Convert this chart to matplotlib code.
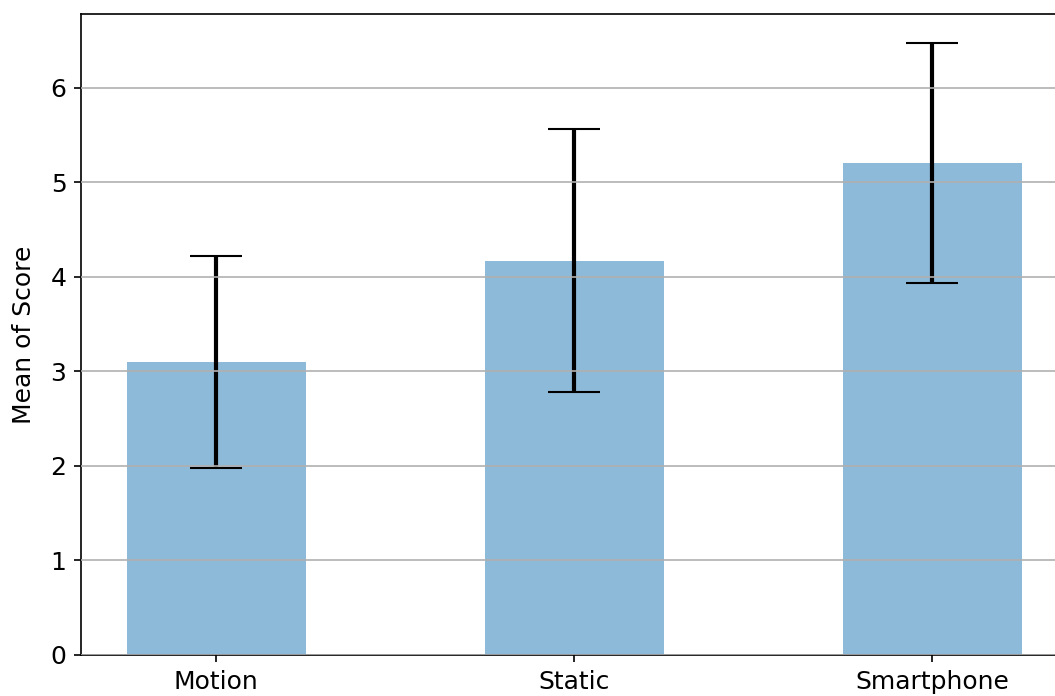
import numpy as np
import matplotlib
matplotlib.use('Agg')
import matplotlib.pyplot as plt

conditions = ['Motion', 'Static', 'Smartphone']
mean_score = [3.10, 4.17, 5.20]
err_score = [1.12, 1.39, 1.27]

DPI = 150
W, H = 1055, 696
fig = plt.figure(figsize=(W/DPI, H/DPI), dpi=DPI)
# axes extends past the right edge of the canvas
ax = fig.add_axes([81/W, (H-655)/H, 986.6/W, 641/H])

x = np.arange(len(conditions))
ax.bar(x, mean_score, width=0.5, color='tab:blue', alpha=0.5)
ax.errorbar(x, mean_score, yerr=err_score, fmt='none', ecolor='black',
            elinewidth=2, capsize=12.5, capthick=1.0)
ax.set_xticks(x)
ax.set_xticklabels(conditions, fontsize=12)
ax.tick_params(axis='y', labelsize=12)
ax.set_ylabel('Mean of Score', fontsize=12, labelpad=7)
ax.set_xlim(-0.378, 2.378)
ax.set_ylim(0, 6.78)
ax.yaxis.grid(True, color='#b0b0b0', linewidth=0.8)
ax.set_axisbelow(False)

fig.savefig('out.png', dpi=DPI)
